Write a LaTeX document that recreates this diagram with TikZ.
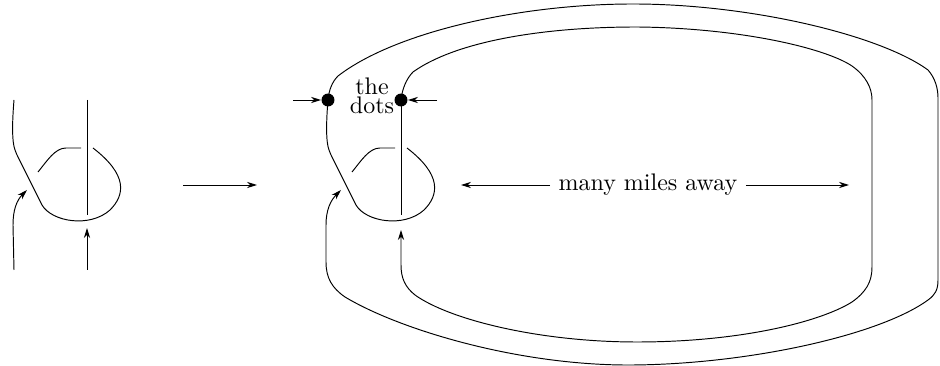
\documentclass[tikz,border=0pt]{standalone}
\usetikzlibrary{arrows.meta}

\begin{document}
\begin{tikzpicture}[x=0.417pt, y=-0.417pt,
    >={Stealth[length=4.2pt, width=2.6pt]},
    knotdot/.style={circle, fill=black, inner sep=0pt, minimum size=5.4pt}]

  % Units are pixels of the sketch, y running downwards.
  \useasboundingbox (0,0) rectangle (940,366);

  % ------------------------------------------------ the crossing, twice
  % Same local piece before and after the move; the second copy sits
  % 314 to the right.
  \foreach \dx in {0, 314} {
    \begin{scope}[shift={(\dx,0)}]
      \draw (14,100) .. controls (12,124) and (12,142) .. (15,150)
        .. controls (16,153) and (17,155) .. (19,159)
        -- (42,205) .. controls (52,222) and (90,228) .. (110,210)
        .. controls (125,195) and (128,175) .. (93,148);
      \draw (38,172) .. controls (47,161) and (55,148) .. (66,148)
        -- (81,148);
      \draw (87,100) -- (87,215);
    \end{scope}
  }

  % ------------------------------------------------ before: loose ends
  \coordinate (inA)    at (14,270);
  \coordinate (inAtip) at (27,190);
  \coordinate (inB)    at (87,270);
  \coordinate (inBtip) at (87,228);
  \draw[->] (inA) -- (13,225) to[out=90, in=225] (inAtip);
  \draw[->] (inB) -- (inBtip);

  % the move itself
  \coordinate (moveL) at (183,185);
  \coordinate (moveR) at (257,185);
  \draw[->] (moveL) -- (moveR);

  % ------------------------------------------------ after: the long loops
  % outer loop, from the left dot round to the under-strand
  \draw[->] (328,100) .. controls (329,90) and (332,82) .. (338,76)
    .. controls (395,32) and (520,4) .. (633,4)
    .. controls (750,4) and (880,35) .. (928,70)
    .. controls (935,78) and (938,88) .. (938,98)
    -- (938,280)
    .. controls (938,290) and (935,295) .. (928,300)
    .. controls (880,335) and (750,364) .. (633,365)
    .. controls (520,366) and (400,330) .. (345,297)
    .. controls (332,288) and (326,278) .. (326,262)
    -- (326,225) to[out=90, in=225] (341,190);

  % inner loop, from the right dot round to the vertical strand
  \draw[->] (401,100) .. controls (402,90) and (406,79) .. (413,72)
    .. controls (455,42) and (540,27) .. (637,27)
    .. controls (740,28) and (825,48) .. (852,66)
    .. controls (866,76) and (872,88) .. (872,100)
    -- (872,267)
    .. controls (872,282) and (866,292) .. (852,302)
    .. controls (820,322) and (740,342) .. (637,342)
    .. controls (540,342) and (450,320) .. (415,295)
    .. controls (405,287) and (401,278) .. (401,265)
    -- (401,230);

  % the dots, drawn last so the strands end under them
  \node[knotdot] (dotL) at (328,100) {};
  \node[knotdot] (dotR) at (401,100) {};
  \node[align=center] (dotslabel) at (372,96) {the\\[-4pt]dots};

  \coordinate (ptL) at (293,100);
  \coordinate (ptR) at (437,100);
  \draw[->] (ptL) -- (dotL);
  \draw[->] (ptR) -- (dotR);

  % ------------------------------------------------ distance note
  \node (miles) at (648,185) {many miles away};
  \coordinate (farL) at (461,185);
  \coordinate (farR) at (849,185);
  \draw[->] (miles) -- (farL);
  \draw[->] (miles) -- (farR);

\end{tikzpicture}
\end{document}
